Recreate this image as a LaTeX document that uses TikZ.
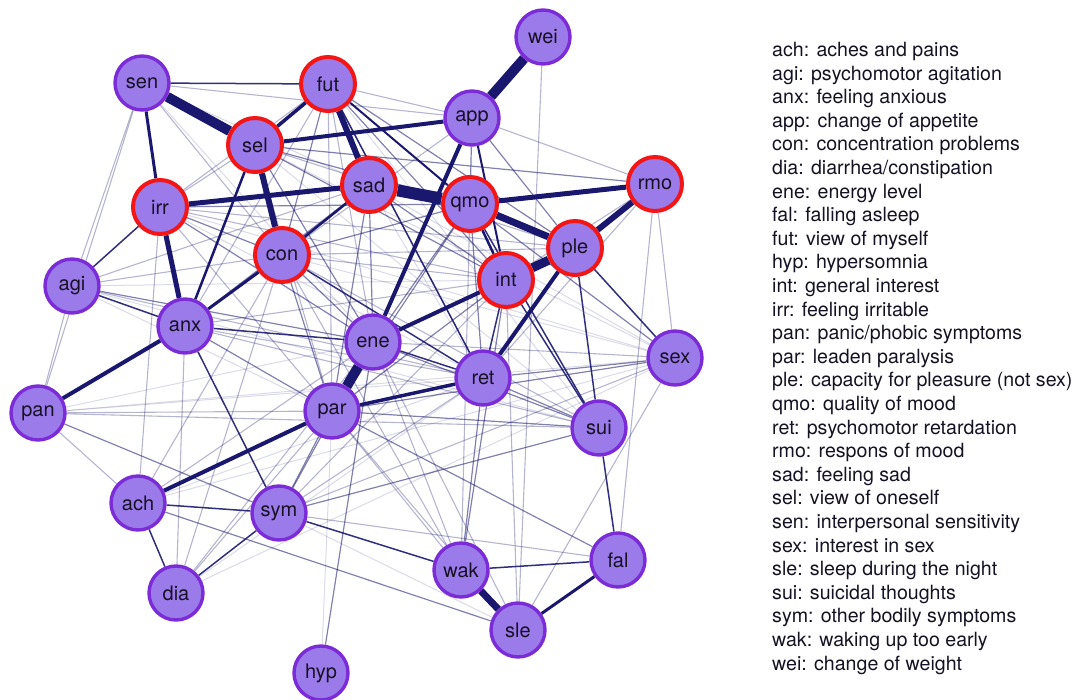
\documentclass[tikz,border=0pt]{standalone}
\usepackage{fontspec}
\setmainfont{TeX Gyre Heros}
\usetikzlibrary{backgrounds}
\definecolor{nfill}{RGB}{155,122,234}
\definecolor{nborder}{RGB}{124,44,214}
\definecolor{nred}{RGB}{242,22,22}
\definecolor{ecol}{RGB}{26,24,110}
\definecolor{tcol}{RGB}{22,18,36}
\tikzset{
  nd/.style={circle, minimum size=54pt, inner sep=0pt, fill=nfill, draw=nborder,
    line width=3.4pt, text=tcol, font=\fontsize{20}{24}\selectfont},
  rednd/.style={nd, draw=nred, line width=4pt},
  eF/.style={draw=ecol, line width=1pt, draw opacity=0.16},
  eL/.style={draw=ecol, line width=1.1pt, draw opacity=0.32},
  eM/.style={draw=ecol, line width=1.2pt, draw opacity=0.55},
  eD/.style={draw=ecol, line width=1.5pt, draw opacity=0.9},
  legtxt/.style={anchor=base west, inner sep=0pt, text=tcol, font=\fontsize{19.6}{23}\selectfont}
}
\begin{document}
\begin{tikzpicture}[x=1pt, y=-1pt]
\useasboundingbox (0,0) rectangle (1076,700);
% nodes
\node[nd] (wei) at (543,37) {wei};
\node[nd] (sen) at (142,83) {sen};
\node[rednd] (fut) at (328,84) {fut};
\node[nd] (app) at (472,118) {app};
\node[rednd] (sel) at (255,145) {sel};
\node[rednd] (sad) at (369,185) {sad};
\node[rednd] (qmo) at (470,204) {qmo};
\node[rednd] (rmo) at (655,184) {rmo};
\node[rednd] (irr) at (160,207) {irr};
\node[rednd] (ple) at (575,248) {ple};
\node[rednd] (con) at (282,255) {con};
\node[rednd] (int) at (506,280) {int};
\node[nd] (agi) at (72,286) {agi};
\node[nd] (anx) at (185,326) {anx};
\node[nd] (ene) at (373,342) {ene};
\node[nd] (sex) at (675,358) {sex};
\node[nd] (ret) at (483,378) {ret};
\node[nd] (par) at (332,411) {par};
\node[nd] (pan) at (38,413) {pan};
\node[nd] (sui) at (599,428) {sui};
\node[nd] (ach) at (138,503) {ach};
\node[nd] (sym) at (279,513) {sym};
\node[nd] (wak) at (461,570) {wak};
\node[nd] (fal) at (618,560) {fal};
\node[nd] (dia) at (176,593) {dia};
\node[nd] (sle) at (518,630) {sle};
\node[nd] (hyp) at (321,673) {hyp};
% edges
\begin{scope}[on background layer]
\foreach \a/\b in {sen/sad, agi/par, pan/ret, ach/ret, sel/sex, sym/sle, dia/sex,
  sen/ene, agi/sui, irr/sex, con/sex, sad/sex, fut/sui, sel/sui, ach/sex, pan/sex,
  irr/ret, sad/ret, agi/int, pan/ene, dia/ret, hyp/par}
  \draw[eF] (\a) -- (\b);
\foreach \a/\b in {sen/pan, agi/pan, pan/ach, dia/par, dia/ene, dia/anx, ach/irr, ach/ene,
  sen/app, fut/app, wei/sle, rmo/fal, sex/sle, pan/sui, wak/qmo, wak/con, sle/int,
  sym/fal, sym/ret, sym/sex, fut/irr, fut/anx, fut/ene, fut/ret, fut/par, sel/ple,
  sel/irr, sel/par, irr/int, irr/ple, irr/par, con/int, con/ple, con/sui, agi/con,
  agi/sad, agi/ret, sen/con, sen/agi, anx/ret, anx/sui, anx/int, rmo/int, rmo/sex,
  rmo/ret, app/con, app/rmo, ene/sex, ene/wak, par/sle, wak/par, sle/ene, ach/con,
  dia/con, sym/int, pan/par}
  \draw[eL] (\a) -- (\b);
\foreach \a/\b in {pan/sym, anx/par, ret/sex, par/sex, sym/sui, hyp/ene, ach/sle,
  sad/anx, fut/con, fut/int, fut/ple, sel/qmo, sel/int, sel/ene, irr/con, irr/qmo,
  qmo/con, qmo/ene, qmo/par, qmo/ret, con/ene, con/par, sad/int, sad/ene, int/par,
  app/qmo, app/ple, ene/sui, par/sui, par/fal, agi/ene, sym/par, sym/ene, ret/sui,
  ret/wak, int/wak, sad/par, irr/ene, sel/rmo, qmo/sex}
  \draw[eM] (\a) -- (\b);
\foreach \a/\b in {sen/fut, sui/fal, wak/fal, sym/wak, ach/dia, ach/sym, dia/sym,
  agi/irr, agi/anx, anx/ene, con/ret, ple/sex, int/sui, ple/sui, int/ret, ene/ret,
  anx/sym, qmo/sui, fut/ret}
  \draw[eD] (\a) -- (\b);
\foreach \a/\b/\w in {sen/sel/10, app/wei/10, sad/qmo/12, ene/par/10, qmo/ple/7,
  int/ple/9, rmo/ple/6, wak/sle/7, sel/con/6, fut/sad/6, irr/anx/5, irr/sad/5,
  qmo/rmo/5, sel/app/4, app/ene/4, int/ene/4, ple/ret/4, anx/pan/4, par/ach/4,
  par/ret/3.5, fal/sle/3, anx/con/3, sen/irr/3, fut/sel/3.5, con/sad/2.5,
  sel/anx/2.5, fut/qmo/2, app/int/2, qmo/int/2.5}
  \draw[draw=ecol, line width=\w pt] (\a) -- (\b);
\end{scope}
% legend
\foreach \t [count=\i from 0] in {{ach: aches and pains}, {agi: psychomotor agitation},
  {anx: feeling anxious}, {app: change of appetite}, {con: concentration problems},
  {dia: diarrhea/constipation}, {ene: energy level}, {fal: falling asleep},
  {fut: view of myself}, {hyp: hypersomnia}, {int: general interest},
  {irr: feeling irritable}, {pan: panic/phobic symptoms}, {par: leaden paralysis},
  {ple: capacity for pleasure (not sex)}, {qmo: quality of mood},
  {ret: psychomotor retardation}, {rmo: respons of mood}, {sad: feeling sad},
  {sel: view of oneself}, {sen: interpersonal sensitivity}, {sex: interest in sex},
  {sle: sleep during the night}, {sui: suicidal thoughts},
  {sym: other bodily symptoms}, {wak: waking up too early}, {wei: change of weight}}
  \node[legtxt] (leg\i) at (772,{56.5+23.6*\i}) {\t};
\end{tikzpicture}
\end{document}
